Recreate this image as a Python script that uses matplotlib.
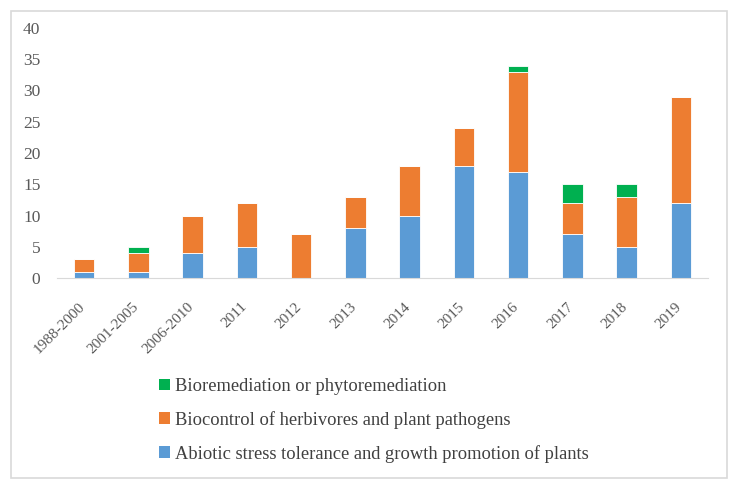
import matplotlib
matplotlib.use("Agg")
import matplotlib.pyplot as plt
from matplotlib.patches import Rectangle, Patch
from matplotlib.transforms import ScaledTranslation

categories = ["1988-2000", "2001-2005", "2006-2010", "2011", "2012", "2013",
              "2014", "2015", "2016", "2017", "2018", "2019"]
abiotic = [1, 1, 4, 5, 0, 8, 10, 18, 17, 7, 5, 12]
biocontrol = [2, 3, 6, 7, 7, 5, 8, 6, 16, 5, 8, 17]
bioremediation = [0, 1, 0, 0, 0, 0, 0, 0, 1, 3, 2, 0]

names = ["Abiotic stress tolerance and growth promotion of plants",
         "Biocontrol of herbivores and plant pathogens",
         "Bioremediation or phytoremediation"]
colors = ["#5B9BD5", "#ED7D31", "#00B050"]

plt.rcParams['font.family'] = ['Liberation Serif', 'DejaVu Serif']
W, H = 740, 488
fig = plt.figure(figsize=(W/100, H/100), dpi=100)
fig.patches.append(Rectangle((11/W, 1-478/H), (727-11)/W, (478-11)/H,
                             transform=fig.transFigure, fill=False,
                             edgecolor="#D9D9D9", linewidth=1.2))

ax = fig.add_axes([57/W, 1-278/H, (708-57)/W, (278-28)/H])
x = range(len(categories))
width = 0.38
bottom2 = abiotic
bottom3 = [a + b for a, b in zip(abiotic, biocontrol)]
ax.bar(x, abiotic, width, color=colors[0], edgecolor="white", linewidth=0.6)
ax.bar(x, biocontrol, width, bottom=bottom2, color=colors[1], edgecolor="white", linewidth=0.6)
ax.bar(x, bioremediation, width, bottom=bottom3, color=colors[2], edgecolor="white", linewidth=0.6)

ax.set_xlim(-0.5, len(categories) - 0.5)
ax.set_ylim(0, 40)
ax.set_yticks(range(0, 41, 5))
ax.set_xticks(list(x))
ax.set_xticklabels(categories, rotation=45, ha="right", rotation_mode="anchor")
for s in ["top", "right", "left"]:
    ax.spines[s].set_visible(False)
ax.spines["bottom"].set_color("#D9D9D9")
ax.tick_params(axis="both", length=0, colors="#595959")
ax.tick_params(axis="x", labelsize=11, pad=16)
ax.tick_params(axis="y", labelsize=12.5, pad=12)
offset = ScaledTranslation(-6/100, 0, fig.dpi_scale_trans)
for lab in ax.get_xticklabels():
    lab.set_transform(lab.get_transform() + offset)

handles = [Patch(facecolor=colors[2]), Patch(facecolor=colors[1]), Patch(facecolor=colors[0])]
labels = [names[2], names[1], names[0]]
fig.legend(handles, labels, loc="upper left", bbox_to_anchor=(159/W, 1-378/H),
           frameon=False, fontsize=13.3, handlelength=0.6, handleheight=0.6,
           handletextpad=0.27, labelspacing=0.86, borderpad=0, borderaxespad=0,
           labelcolor="#404040")

fig.savefig("out.png", dpi=100)
